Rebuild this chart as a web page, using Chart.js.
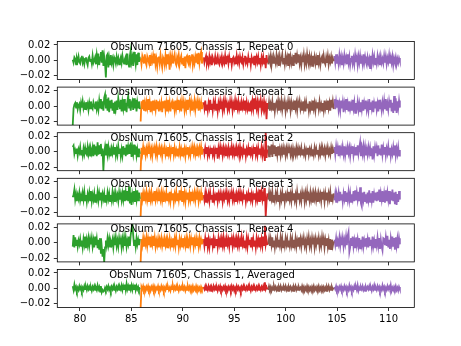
<!DOCTYPE html>
<html>
<head>
<meta charset="utf-8">
<script src="https://cdn.jsdelivr.net/npm/chart.js@4.4.1/dist/chart.umd.min.js"></script>
<style>
  body { margin: 0; background: #fff; }
  #fig { position: relative; width: 461px; height: 346px; overflow: hidden; }
  #fig canvas { position: absolute; left: 0; }
</style>
</head>
<body>
<div id="fig"></div>
<script>
// sample clock of the scans (x axis)
const tStart = 79.3;
const tStep = 0.0805;

// where each scan segment starts / ends (sample index)
const segBreaks = [0, 82, 158, 236, 316, 396];
const segColors = ['#2ca02c', '#ff7f0e', '#d62728', '#8c564b', '#9467bd'];

const titles = [
  'ObsNum 71605, Chassis 1, Repeat 0',
  'ObsNum 71605, Chassis 1, Repeat 1',
  'ObsNum 71605, Chassis 1, Repeat 2',
  'ObsNum 71605, Chassis 1, Repeat 3',
  'ObsNum 71605, Chassis 1, Repeat 4',
  'ObsNum 71605, Chassis 1, Averaged'
];

// values in units of 1e-3, one line per scan segment
const repeat0 = [
  1,-3,4,2,-5,3,-1,5,-2,-4,3,6,-3,1,-5,2,4,-2,-6,3,5,-1,2,-4,6,-3,0,4, -5,7,-2,9,-6,4,11,-3,13,-7,5,-4,-22,6,8,-9,3,-5,7, -3,2,-6,4,1,-4,5,-2,3,-5,0,4,-3,6,-1,-4,2,5, -6,9,-3,-8,6,13,-2,4,-7,11,3,-5,8,-6,10,-2,5,
  3,-5,6,2,-4,8,-2,-6,5,1,-3,7,-7,4,-1,6,-4,9,-5,2,-8,3,5,-4,7,-2,-9,4,1,-6,6,-3,8,-5,2,-12,5,-2,6,-4,3,8,-3,-6,4,-1,7,-5,2,6,-4,3,-7,5,-10,4,6,-2,-5,7,-3,4,8,-6,2,-4,5,-2,9,-5,10,-3,6,11,-4,3,
  4,-3,2,6,-4,1,-5,5,-2,3,-6,4,0,-3,5,-4,2,6,-2,-5,3,-1,5,-4,2,-3,6,-5,1,4,-4,5,-2,3,-6,2,4,-3,1,-5,6,-2,3,-4,5,-1,-3,4,-5,2,6,-3,1,-4,5,-2,3,-6,4,-1,2,-5,6,-3,4,-2,5,-4,3,-6,4,-2,5,-4,3,-10,7,-3,
  -5,4,-1,6,-6,3,-3,5,1,-4,7,-2,4,-7,5,-3,2,8,-4,3,-5,6,-2,4,-6,9,-3,5,-4,2,-6,7,-3,10,-5,6,-2,8,-4,3,-6,4,-2,7,-5,3,-4,8,-1,-6,5,-3,4,-7,6,-2,5,-4,3,-5,7,-3,4,-6,2,5,-4,6,-2,-5,4,-3,6,-5,3,-2,5,-4,3,-1,
  6,-3,8,-4,2,-5,7,-2,5,-6,3,-4,7,-1,4,-5,8,-3,5,-6,2,6,-4,3,-5,7,-2,4,-6,5,-3,6,-4,2,-5,8,-3,5,-2,-6,4,-3,2,-10,6,-4,7,-2,5,-5,3,-4,6,-2,4,-6,5,-3,2,-4,6,-3,5,-5,3,-2,7,-4,4,-3,5,-6,3,-2,4,-5,2,-3,3,-1
];
const repeat1 = [
  -25,-3,2,4,-2,5,-4,1,3,-5,4,-2,6,-3,2,-4,5,-1,3,-5,4,-3,6,-2,-4,5,1,-3,6,-4,2,-5,7,-2,9,-4,6,-6,11,15,-3,9,-6,11,-8,7,-3,8,-6,4,-9,6,-3,7,-5,10,2,-4,8,-7,5,-3,9,-6,4,-8,6,13,-2,9,-6,4,7,-5,10,-3,8,-7,5,-2,6,-4,
  -20,6,-4,8,-6,3,-7,5,-2,9,-5,4,-8,6,-3,7,-6,2,-5,8,-4,6,-7,3,-2,5,-8,6,-3,7,-5,4,-6,8,-2,5,-7,3,6,-4,2,-6,7,-3,5,-5,8,-2,4,-7,6,-3,5,-6,3,-4,8,-5,2,7,-4,5,-6,3,-2,7,-5,4,-3,6,-6,4,-2,5,-4,2,
  5,-3,7,-5,2,-6,4,-2,8,-4,3,-6,5,-1,6,-5,3,-7,4,-2,6,-4,3,-6,5,-3,7,-2,4,-5,2,-4,6,-3,5,-6,3,-2,7,-5,4,-3,6,-4,2,-6,5,-2,4,-5,7,-3,5,-4,2,-6,3,5,-4,6,-3,10,-4,6,-3,5,-6,4,-2,7,-5,3,-4,6,-3,2,-17,4,
  -4,5,-6,3,-2,6,-5,4,-7,2,5,-3,6,-6,4,-2,7,-5,3,-4,5,-7,2,-3,6,-4,4,-6,5,-2,3,-5,7,-3,4,-6,5,-2,6,-4,2,-5,6,-3,4,-7,5,-2,3,-6,6,-4,2,-5,7,-3,4,-6,3,-2,5,-4,6,-3,2,-6,4,-5,7,-3,3,-5,7,-3,4,-6,8,-2,6,-4,
  9,-4,6,-2,8,-5,3,-6,7,-3,5,-8,4,-2,9,-5,3,-7,6,-4,2,-6,8,-3,5,-9,4,-2,6,-5,3,-7,5,-4,8,-6,4,-3,7,-5,2,-6,9,-4,5,-3,7,-8,4,-2,6,-5,3,-7,8,-4,2,-6,5,-3,7,-4,9,-6,3,-5,6,-2,8,-7,4,-9,13,-6,10,-9,6,-3,7,-2
];
const repeat2 = [
  6,8,-3,2,-2,4,-5,3,-1,6,-4,2,-5,4,-3,5,-2,-4,6,-3,4,-5,3,-2,5,-6,9,-3,7,-6,12,-4,8,-2,10,-6,4,-25,-2,6,-5,10,-3,6,-4,2,-6,4,-2,5,-3,6,-5,3,-4,7,-2,4,-6,3,-5,7,-3,5,-6,9,-4,6,-2,8,10,-7,5,-3,9,-4,7,-5,3,-6,4,-3,
  -25,5,-3,6,-4,2,-5,4,-2,6,-3,5,-4,3,-6,4,-2,5,-3,6,-5,3,-4,5,-2,4,-6,3,-3,5,-4,2,-5,6,-3,4,-5,3,-2,6,-4,5,-3,2,-5,4,-2,6,-4,3,-5,5,-2,4,-6,3,-3,6,-4,2,-5,4,-3,6,-2,5,-4,3,-6,4,-2,5,-3,6,-4,3,
  4,-3,5,-2,6,-5,2,-4,3,-2,5,-4,2,-6,3,-2,5,-9,4,-3,6,-4,3,-5,5,-2,4,-6,3,-3,5,-4,2,-5,6,-3,4,-4,3,-6,5,-2,4,-5,6,-3,2,-4,5,-3,4,-6,3,-2,5,-4,6,-3,2,-5,4,-2,6,-4,3,-5,5,-3,4,-2,6,-5,3,-4,-12,25,-8,3,
  8,-6,7,-4,9,-7,5,-3,8,-6,6,-4,7,-5,3,-5,4,-2,5,-4,3,-5,4,-3,5,-2,4,-4,3,-5,4,-3,2,-4,5,-3,4,-5,3,-2,5,-4,3,-3,4,-5,2,-3,5,-4,3,-2,4,-5,3,-4,5,-2,4,-3,2,-5,4,-3,5,-4,3,-2,4,-5,3,-4,5,-3,2,-4,5,-3,4,-2,
  6,-4,7,-3,5,-6,8,-2,4,-5,6,-3,7,-5,3,-4,6,-2,5,-6,4,-3,7,-5,3,-4,6,-5,8,-3,5,12,-6,5,-3,7,-4,6,-5,3,-4,6,-2,5,-6,4,-10,7,-4,6,-2,5,-6,8,-3,4,-5,9,-4,5,-3,6,-5,4,-2,7,-4,5,-6,3,-3,6,-4,8,-5,4,-3,6,-5,2
];
const repeat3 = [
  0,3,10,-3,4,-5,3,-2,6,-4,2,-5,5,-3,7,-4,3,-6,4,-2,6,-4,8,-5,3,-3,5,-6,4,-2,7,-4,5,-3,6,-5,4,-2,5,-6,3,-4,6,-2,5,-5,3,-4,7,-3,4,-6,5,-2,3,-5,6,-3,4,-4,5,-3,9,-5,6,-4,8,-5,14,-8,6,-10,4,-2,8,-6,5,-3,9,-4,6,-2,
  -25,6,-3,5,-5,4,-2,7,-4,3,-6,5,-3,6,-4,2,-5,8,-3,5,-2,6,-5,4,-3,6,-4,5,-6,3,-2,6,-4,5,-3,7,-5,4,-3,5,-6,4,-2,7,-4,5,-3,9,-4,6,-5,8,-3,5,-6,4,-2,6,-4,5,-3,7,-5,4,-2,6,-4,5,-3,6,-5,4,-2,6,-4,3,
  3,-4,5,-6,2,-3,4,-5,6,-2,3,-7,5,-4,2,-3,6,-5,4,-2,5,-4,3,-6,4,-2,5,-3,6,-4,3,-5,4,-2,6,-3,5,-4,2,-6,4,-3,5,-2,6,-5,3,-4,5,-2,4,-6,3,-2,5,-4,6,-3,4,-5,3,-2,5,-4,6,-3,4,-5,10,-4,6,-3,5,-4,12,-25,-6,5,
  -3,6,-5,4,-2,7,-6,3,-4,5,-2,6,-5,3,-7,4,-3,6,-4,5,-6,3,-2,5,-4,7,-3,4,-5,6,-3,5,-4,3,-6,7,-2,5,-4,3,-5,6,-2,4,-6,5,-3,7,-4,2,-5,6,-3,4,-7,5,-2,6,-4,3,-6,5,-2,4,-5,7,-3,4,-6,5,-3,6,-4,5,-2,7,-5,4,-3,5,
  -4,5,-6,3,-2,6,-5,7,-3,4,-6,5,-2,8,-5,6,-3,7,-4,5,-6,4,-2,8,-5,9,-4,6,-3,7,-5,13,-8,-12,6,-3,7,-5,4,-8,6,-3,9,-6,5,-4,8,-7,4,-3,6,-5,7,-4,10,-6,5,-3,8,-6,4,-7,9,-5,6,-3,8,-9,7,-4,10,-5,6,-9,7,-10,4,-6,8,-3
];
const repeat4 = [
  -5,10,-6,7,-3,4,-5,3,-2,5,-4,3,-6,5,-2,8,-7,4,-3,6,-4,5,-2,6,-5,3,-6,8,-3,5,-7,4,-9,6,-14,-5,-18,-8,-25,-6,3,-4,6,-3,5,-5,2,-2,4,-6,5,-3,7,-4,3,-5,6,-2,4,-6,5,-3,7,-4,6,-5,3,-2,8,-4,10,18,25,10,-3,4,-5,6,-2,4,-3,5,
  -25,5,-3,6,-5,4,-2,7,-4,5,-3,8,-6,4,-2,9,-4,6,-5,3,-3,5,-6,4,-2,6,-4,3,-5,5,-3,4,-6,3,-2,6,-4,2,-5,6,-3,5,-4,7,-2,4,-6,5,-3,4,-5,6,-2,4,-4,5,-6,3,-2,6,-4,5,-3,7,-5,4,-2,6,-4,3,-5,6,-3,4,-2,5,
  5,-4,6,-3,7,-5,4,-6,3,-2,6,-4,5,-7,3,-3,5,-5,6,-2,4,-6,5,-3,7,-4,3,-5,6,-2,4,-5,7,-3,5,-4,6,-2,4,-6,5,-3,6,-4,3,-5,7,-2,4,-6,3,-4,6,-5,5,-2,4,-6,7,-3,5,-4,3,-6,6,-2,4,-5,7,-3,5,-4,8,-3,22,-2,4,-3,
  -2,6,-4,5,-3,7,-5,3,-6,4,-2,6,-5,4,-3,7,-4,5,-6,3,-4,6,-2,5,-5,3,-4,6,-3,5,-6,4,-3,6,-5,3,-4,7,-2,5,-5,4,-3,6,-4,2,-6,5,-3,7,-4,3,-5,6,-2,4,-6,5,-3,4,-2,6,-5,3,-4,7,-3,5,-6,4,-3,6,-5,3,-9,5,-8,4,-4,2,
  4,-3,6,-5,3,-2,7,-4,5,-3,6,-5,4,-2,8,-3,9,14,-12,-6,6,-4,8,-5,3,-6,7,-3,5,-4,6,-7,4,-3,8,-5,3,-4,6,-2,5,-6,7,-3,4,-5,8,-4,3,-6,5,-3,7,-4,6,-8,4,-5,-10,6,5,-3,7,-4,9,-6,4,-8,6,-2,8,-5,6,-9,7,-4,5,-7,6,-2
];
const averaged = [
  3,-2,5,-1,2,-3,1,-2,3,-1,2,-3,1,-2,3,-1,2,-2,3,-1,2,-2,1,-3,2,-1,3,-2,1,-2,4,-1,2,-4,3,-5,-2,-4,-3,1,-2,2,-1,3,-2,1,-3,2,-1,3,-2,1,-3,2,-1,3,-2,2,-1,4,-2,3,-1,5,-2,6,-1,3,-2,5,-1,4,-2,3,-1,5,-2,3,-1,2,-2,1,
  -25,2,-1,3,-2,1,-3,2,-1,3,-2,1,-3,2,-1,3,-2,2,-3,1,-1,3,-2,1,-2,3,-1,2,-3,1,-2,3,-1,2,-2,1,-3,2,-1,3,-2,2,-1,3,-2,1,-3,2,-1,2,-2,3,-1,2,-3,1,-2,3,-1,2,-3,2,-1,3,-2,1,-2,3,-1,2,-2,1,-3,2,-1,2,
  2,-1,3,-2,1,-2,3,-1,2,-3,1,-2,3,-1,2,-2,1,-3,2,-1,3,-2,1,-2,2,-1,3,-2,1,-3,2,-1,2,-2,3,-1,2,-3,1,-2,3,-1,2,-2,1,-3,2,-1,3,-2,1,-2,2,-1,3,-2,1,-3,2,-1,3,-2,1,-2,2,-1,3,-2,1,-2,2,-1,3,-2,8,-1,2,-1,
  -2,3,-1,2,-3,1,-2,3,-1,2,-2,1,-3,2,-1,3,-2,1,-2,2,-1,3,-2,1,-3,2,-1,2,-2,1,-3,2,-1,3,-2,1,-2,2,-1,1,-2,3,-1,2,-3,1,-2,3,-1,2,-2,1,-3,2,-1,3,-2,1,-2,2,-1,3,-2,1,-3,2,-1,2,-2,1,-3,2,-1,3,-2,1,-2,2,-1,1,
  2,-1,3,-2,1,-3,2,-1,3,-2,1,-2,3,-1,2,-3,1,-2,4,-1,2,-3,1,-2,3,-1,2,-2,4,-3,1,-2,2,-1,3,-2,1,-3,2,-1,2,-1,3,-2,1,-3,2,-1,4,-2,1,-2,3,-1,2,-3,1,-2,4,-1,2,-3,1,-2,3,-1,2,-2,4,-3,1,-2,2,-1,3,-2,1,-3,2,-1
];

const panels = [repeat0, repeat1, repeat2, repeat3, repeat4, averaged];

const xTicks = [80, 85, 90, 95, 100, 105, 110];
const yTicks = [-0.02, 0.00, 0.02];

const axLeft = 57.3, axRight = 414.3;
const firstTop = 41.5, panelGap = 45.6, panelH = 38;
const FONT = '"DejaVu Sans", sans-serif';

const fig = document.getElementById('fig');

const framePlugin = {
  id: 'frame',
  afterDatasetsDraw(chart) {
    const a = chart.chartArea, c = chart.ctx;
    c.save();
    c.strokeStyle = '#000';
    c.lineWidth = 0.8;
    c.strokeRect(a.left, a.top, a.right - a.left, a.bottom - a.top);
    c.restore();
  },
  afterDraw(chart) {
    const c = chart.ctx;
    c.save();
    c.fillStyle = '#000';
    c.font = '10px ' + FONT;
    c.textAlign = 'center';
    c.textBaseline = 'alphabetic';
    c.fillText(chart.options.plugins.frame.title, 202, chart.chartArea.top + 8.3);
    c.restore();
  }
};

// no label-overflow padding, the frame is placed by hand
function noPad(ax) {
  ax.paddingTop = 0; ax.paddingBottom = 0;
  ax.paddingLeft = 0; ax.paddingRight = 0;
}

panels.forEach((vals, p) => {
  const isLast = p === panels.length - 1;
  const top = firstTop + panelGap * p;
  const cTop = Math.floor(top) - 2;
  const xh = isLast ? 30 : 6;
  const H = Math.ceil(top - cTop + panelH + xh);

  const cv = document.createElement('canvas');
  cv.width = 461;
  cv.height = H;
  cv.style.top = cTop + 'px';
  cv.style.width = '461px';
  cv.style.height = H + 'px';
  fig.appendChild(cv);

  const datasets = [];
  for (let k = 0; k < segColors.length; k++) {
    const pts = [];
    for (let i = segBreaks[k]; i < segBreaks[k + 1]; i++) {
      pts.push({ x: tStart + tStep * i, y: vals[i] / 1000 });
    }
    datasets.push({
      data: pts,
      borderColor: segColors[k],
      borderWidth: 1.8,
      pointRadius: 0,
      tension: 0,
      fill: false,
      clip: 0
    });
  }

  new Chart(cv, {
    type: 'line',
    data: { datasets },
    plugins: [framePlugin],
    options: {
      responsive: false,
      animation: false,
      devicePixelRatio: 1,
      layout: {
        padding: { left: 0, right: 461 - axRight, top: top - cTop, bottom: H - (top - cTop) - panelH - xh }
      },
      plugins: {
        legend: { display: false },
        tooltip: { enabled: false },
        frame: { title: titles[p] }
      },
      scales: {
        x: {
          type: 'linear',
          min: 77.8,
          max: 112.5,
          afterBuildTicks: ax => { ax.ticks = xTicks.map(v => ({ value: v })); },
          afterFit: ax => { ax.height = xh; noPad(ax); },
          grid: { drawOnChartArea: false, drawTicks: true, tickLength: 3.5, tickWidth: 0.8, tickColor: '#000' },
          border: { display: false },
          ticks: {
            display: isLast,
            color: '#000',
            padding: 2,
            maxRotation: 0,
            autoSkip: false,
            font: { family: FONT, size: 10 },
            callback: v => String(v)
          }
        },
        y: {
          min: -0.0247,
          max: 0.0245,
          afterBuildTicks: ax => { ax.ticks = yTicks.map(v => ({ value: v })); },
          afterFit: ax => { ax.width = axLeft; noPad(ax); },
          grid: { drawOnChartArea: false, drawTicks: true, tickLength: 3.5, tickWidth: 0.8, tickColor: '#000' },
          border: { display: false },
          ticks: {
            color: '#000',
            padding: 3.5,
            autoSkip: false,
            font: { family: FONT, size: 10 },
            callback: v => (v < 0 ? '\u2212' : '') + Math.abs(v).toFixed(2)
          }
        }
      }
    }
  });
});
</script>
</body>
</html>
